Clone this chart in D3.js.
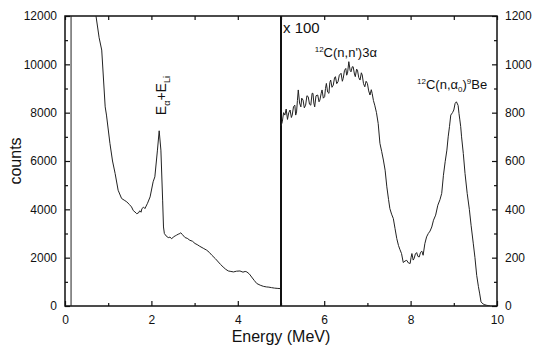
<!DOCTYPE html>
<html>
<head>
<meta charset="utf-8">
<script src="https://cdn.jsdelivr.net/npm/d3@7"></script>
<style>
  body { margin: 0; background: #fff; }
  svg text { font-family: "Liberation Sans", Arial, sans-serif; fill: #111; }
</style>
</head>
<body>
<svg id="chart" width="550" height="350"></svg>
<script>
// left part: counts (left axis)
const leftEnergy = [0.66, 0.72, 0.79, 0.85, 0.93, 0.96, 1.04, 1.10, 1.16, 1.23, 1.31, 1.37, 1.43, 1.49, 1.54, 1.58, 1.62, 1.66, 1.70, 1.73, 1.76, 1.78, 1.82, 1.85, 1.91, 1.97, 2.04, 2.08, 2.14, 2.18, 2.22, 2.26, 2.28, 2.30, 2.34, 2.39, 2.43, 2.47, 2.51, 2.55, 2.58, 2.62, 2.66, 2.68, 2.72, 2.78, 2.83, 2.89, 2.95, 3.01, 3.06, 3.12, 3.20, 3.28, 3.34, 3.40, 3.48, 3.55, 3.60, 3.66, 3.72, 3.78, 3.84, 3.90, 3.97, 4.05, 4.12, 4.17, 4.21, 4.27, 4.32, 4.38, 4.44, 4.52, 4.59, 4.66, 4.72, 4.78, 4.85, 4.91, 4.98];
const leftCounts = [13200, 11970, 11100, 10590, 8240, 7900, 6730, 6000, 5485, 4790, 4450, 4380, 4310, 4200, 4100, 3950, 3890, 3820, 3850, 3940, 3880, 4030, 4090, 4030, 4250, 4515, 5140, 5345, 6450, 7250, 6450, 4380, 3270, 3000, 2900, 2830, 2850, 2780, 2860, 2900, 2930, 2970, 3000, 3030, 2950, 2830, 2800, 2720, 2680, 2585, 2540, 2470, 2390, 2310, 2220, 2100, 1960, 1820, 1720, 1615, 1520, 1450, 1430, 1410, 1440, 1450, 1400, 1430, 1410, 1320, 1200, 1060, 930, 860, 815, 790, 780, 760, 740, 730, 720];

// right part: counts x 100 (right axis)
const rightEnergy = [5.00, 5.03, 5.06, 5.09, 5.12, 5.15, 5.18, 5.21, 5.24, 5.26, 5.29, 5.32, 5.34, 5.36, 5.38, 5.40, 5.43, 5.46, 5.48, 5.51, 5.54, 5.57, 5.60, 5.63, 5.66, 5.69, 5.72, 5.74, 5.76, 5.78, 5.81, 5.85, 5.88, 5.90, 5.93, 5.95, 5.98, 6.01, 6.03, 6.05, 6.08, 6.11, 6.13, 6.15, 6.18, 6.21, 6.24, 6.26, 6.29, 6.32, 6.35, 6.39, 6.42, 6.44, 6.47, 6.50, 6.52, 6.54, 6.57, 6.60, 6.62, 6.65, 6.67, 6.70, 6.72, 6.75, 6.77, 6.80, 6.83, 6.86, 6.88, 6.91, 6.94, 6.97, 7.00, 7.03, 7.06, 7.09, 7.11, 7.14, 7.17, 7.21, 7.25, 7.29, 7.33, 7.37, 7.41, 7.45, 7.49, 7.52, 7.56, 7.60, 7.64, 7.68, 7.72, 7.75, 7.79, 7.83, 7.87, 7.91, 7.95, 7.99, 8.01, 8.03, 8.06, 8.08, 8.11, 8.14, 8.17, 8.20, 8.23, 8.26, 8.29, 8.33, 8.37, 8.41, 8.45, 8.49, 8.53, 8.58, 8.63, 8.68, 8.72, 8.76, 8.80, 8.84, 8.87, 8.90, 8.93, 8.97, 9.00, 9.03, 9.06, 9.10, 9.12, 9.14, 9.16, 9.18, 9.22, 9.26, 9.31, 9.36, 9.40, 9.45, 9.49, 9.53, 9.57, 9.60, 9.63, 9.68, 9.72, 9.76, 9.84, 9.92];
const rightCounts = [745, 762, 800, 790, 815, 772, 800, 811, 780, 790, 825, 831, 790, 803, 850, 894, 840, 824, 860, 852, 820, 831, 870, 866, 835, 831, 880, 880, 840, 824, 870, 873, 845, 852, 880, 894, 860, 866, 900, 921, 885, 880, 925, 935, 905, 914, 945, 949, 920, 928, 955, 963, 930, 942, 975, 983, 955, 963, 1011, 975, 969, 990, 990, 960, 949, 980, 976, 945, 935, 965, 956, 920, 907, 930, 921, 890, 873, 895, 880, 850, 831, 800, 755, 673, 640, 604, 562, 493, 440, 403, 380, 362, 320, 279, 250, 235, 217, 180, 186, 189, 178, 176, 200, 217, 190, 196, 215, 221, 205, 203, 222, 227, 210, 258, 286, 300, 310, 327, 355, 376, 417, 440, 466, 541, 597, 645, 700, 742, 790, 800, 811, 838, 845, 830, 797, 770, 742, 700, 631, 548, 466, 400, 334, 260, 200, 127, 80, 50, 17, 8, 5, 3, 0];

const leftCutoff = 0.14;   // thin vertical line near the origin
const splitEnergy = 5;     // heavy divider between the two scales

const xTicks = [0, 2, 4, 6, 8, 10];
const leftTicks = [0, 2000, 4000, 6000, 8000, 10000, 12000];
const rightTicks = [0, 200, 400, 600, 800, 1000, 1200];

const svg = d3.select("#chart");
const margin = { top: 16, right: 53, bottom: 44, left: 65 };
const width = 550 - margin.left - margin.right;
const height = 350 - margin.top - margin.bottom;

const x = d3.scaleLinear().domain([0, 10]).range([0, width]);
const yL = d3.scaleLinear().domain([0, 12000]).range([height, 0]);
const yR = d3.scaleLinear().domain([0, 1200]).range([height, 0]);

const g = svg.append("g").attr("transform", `translate(${margin.left},${margin.top})`);

g.append("clipPath").attr("id", "clip")
  .append("rect").attr("width", width).attr("height", height);

function styleAxis(sel) {
  sel.selectAll("path.domain").remove();
  sel.selectAll("line").attr("stroke", "#111").attr("stroke-width", 1.2);
  sel.selectAll("text").attr("font-size", "12px").attr("fill", "#111");
}

// bottom axis, ticks pointing inward
const bottomMin = g.append("g").attr("transform", `translate(0,${height})`);
bottomMin.call(d3.axisBottom(x).tickValues(d3.range(1, 10, 2)).tickSize(-3).tickFormat(""));
styleAxis(bottomMin);
const bottomMaj = g.append("g").attr("transform", `translate(0,${height})`);
bottomMaj.call(d3.axisBottom(x).tickValues(xTicks).tickSize(-5).tickPadding(9).tickFormat(d3.format("d")));
styleAxis(bottomMaj);

// top axis
const topAxis = g.append("g");
topAxis.call(d3.axisTop(x).tickValues(d3.range(0, 11, 1)).tickSize(-4).tickFormat(""));
styleAxis(topAxis);

// left axis
const leftMin = g.append("g");
leftMin.call(d3.axisLeft(yL).tickValues(d3.range(1000, 12000, 2000)).tickSize(-3).tickFormat(""));
styleAxis(leftMin);
const leftMaj = g.append("g");
leftMaj.call(d3.axisLeft(yL).tickValues(leftTicks).tickSize(-5).tickPadding(8).tickFormat(d3.format("d")));
styleAxis(leftMaj);

// right axis
const rightMin = g.append("g").attr("transform", `translate(${width},0)`);
rightMin.call(d3.axisRight(yR).tickValues(d3.range(100, 1200, 200)).tickSize(-3).tickFormat(""));
styleAxis(rightMin);
const rightMaj = g.append("g").attr("transform", `translate(${width},0)`);
rightMaj.call(d3.axisRight(yR).tickValues(rightTicks).tickSize(-5).tickPadding(8).tickFormat(d3.format("d")));
styleAxis(rightMaj);

// frame
g.append("rect").attr("width", width).attr("height", height)
  .attr("fill", "none").attr("stroke", "#111").attr("stroke-width", 1.5);

// vertical lines
g.append("line").attr("x1", x(leftCutoff)).attr("x2", x(leftCutoff))
  .attr("y1", 0).attr("y2", height).attr("stroke", "#222").attr("stroke-width", 1);
g.append("line").attr("x1", x(splitEnergy)).attr("x2", x(splitEnergy))
  .attr("y1", 0).attr("y2", height).attr("stroke", "#111").attr("stroke-width", 2);

// spectra
const leftData = leftEnergy.map((e, i) => ({ e, v: leftCounts[i] }));
const rightData = rightEnergy.map((e, i) => ({ e, v: rightCounts[i] }));

g.append("path").datum(leftData)
  .attr("clip-path", "url(#clip)")
  .attr("fill", "none").attr("stroke", "#222").attr("stroke-width", 1)
  .attr("d", d3.line().x(d => x(d.e)).y(d => yL(d.v)));

g.append("path").datum(rightData)
  .attr("clip-path", "url(#clip)")
  .attr("fill", "none").attr("stroke", "#222").attr("stroke-width", 1)
  .attr("d", d3.line().x(d => x(d.e)).y(d => yR(d.v)));

// annotations
const eLabel = g.append("text")
  .attr("transform", `translate(${x(2.18) + 7},${yL(7400) - 12}) rotate(-90)`)
  .attr("font-size", "14px");
eLabel.append("tspan").text("E");
eLabel.append("tspan").attr("font-size", "9px").attr("dy", 4).text("α");
eLabel.append("tspan").attr("dy", -4).text("+E");
eLabel.append("tspan").attr("font-size", "9px").attr("dy", 4).text("Li");

g.append("text").attr("x", x(5) + 2).attr("y", 17)
  .attr("font-size", "15px").text("x 100");

const c1 = g.append("text").attr("x", x(5.78)).attr("y", yR(1030))
  .attr("font-size", "13px");
c1.append("tspan").attr("font-size", "8px").attr("dy", -5).text("12");
c1.append("tspan").attr("dy", 5).text("C(n,n')3α");

const c2 = g.append("text").attr("x", x(8.15)).attr("y", yR(900))
  .attr("font-size", "13px");
c2.append("tspan").attr("font-size", "8px").attr("dy", -5).text("12");
c2.append("tspan").attr("dy", 5).text("C(n,α");
c2.append("tspan").attr("font-size", "8px").attr("dy", 3).text("0");
c2.append("tspan").attr("dy", -3).text(")");
c2.append("tspan").attr("font-size", "8px").attr("dy", -5).text("9");
c2.append("tspan").attr("dy", 5).text("Be");

// axis titles
svg.append("text")
  .attr("x", margin.left + x(5)).attr("y", 342)
  .attr("text-anchor", "middle").attr("font-size", "16px")
  .text("Energy (MeV)");

svg.append("text")
  .attr("transform", `translate(21,${margin.top + height / 2}) rotate(-90)`)
  .attr("text-anchor", "middle").attr("font-size", "16px")
  .text("counts");
</script>
</body>
</html>
